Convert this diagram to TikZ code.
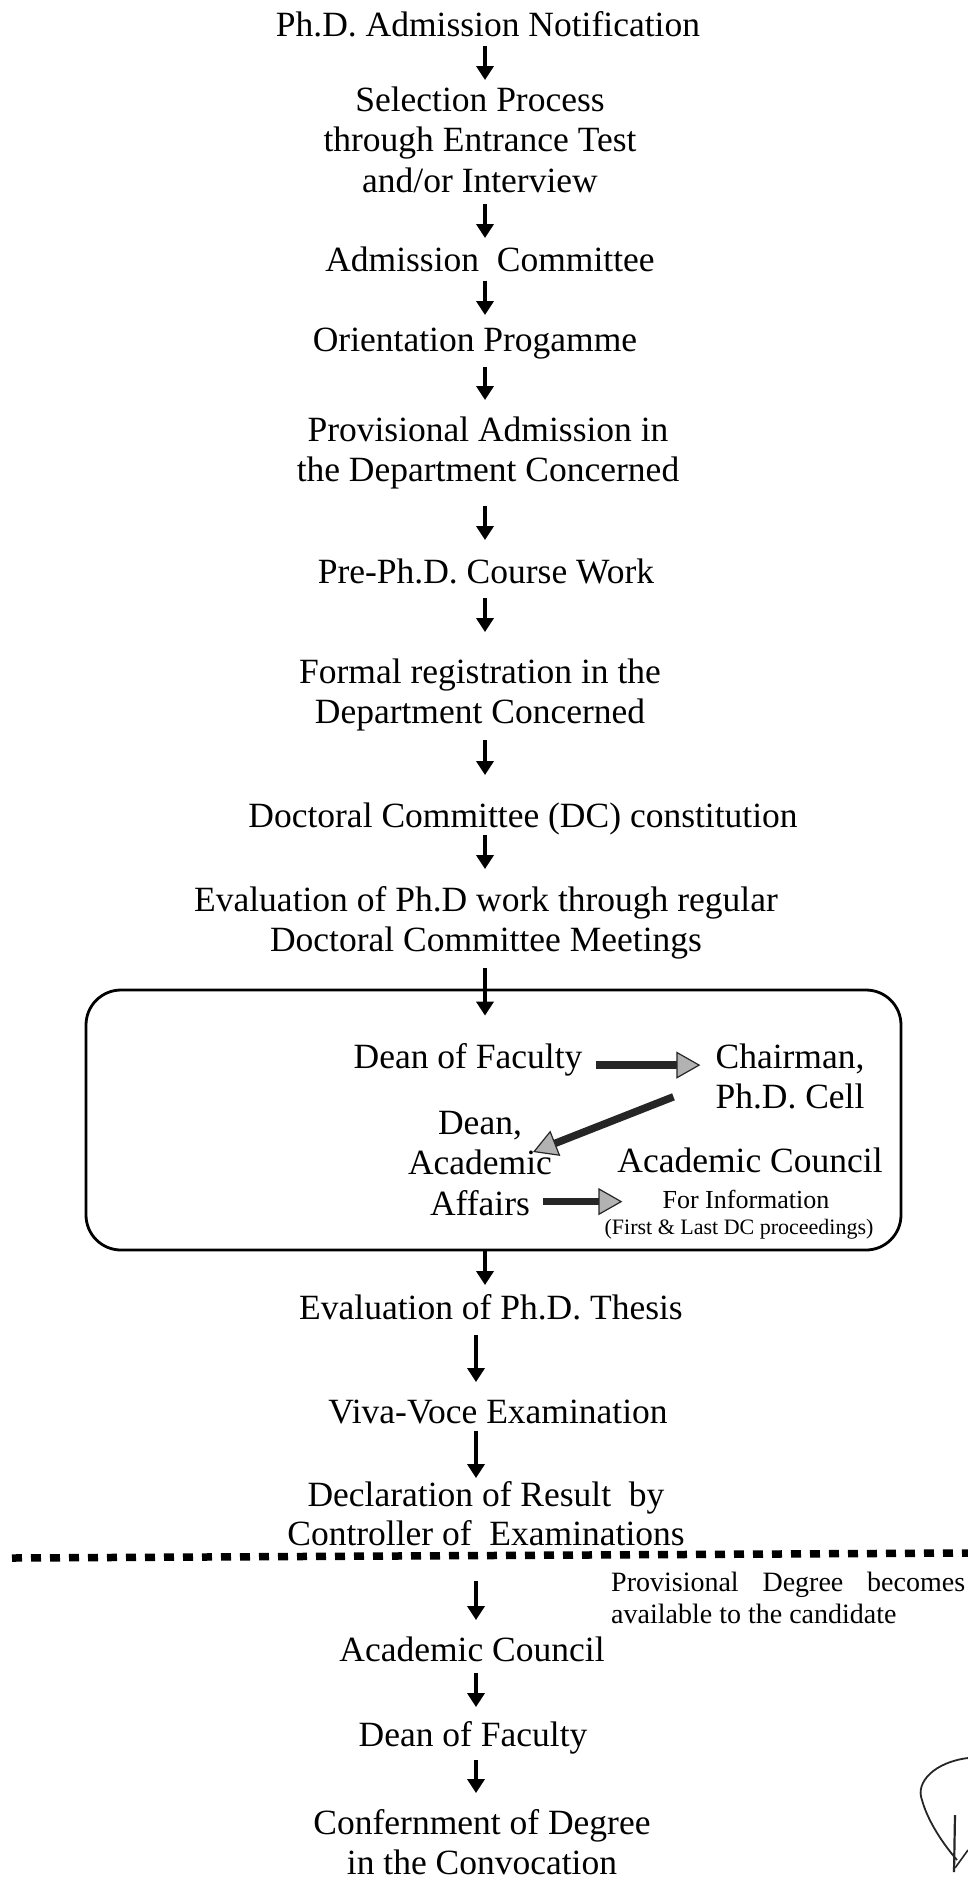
\documentclass[tikz,border=0pt]{standalone}
\usepackage{fontspec}
\setmainfont{Liberation Serif}
\usetikzlibrary{arrows.meta}
\begin{document}
\begin{tikzpicture}[x=1pt,y=-1pt,
  txt/.style={font=\fontsize{35.5}{40.5}\selectfont, align=center, inner sep=0pt, anchor=north},
  arr/.style={line width=4pt, black, -{Triangle[length=14pt,width=17pt]}},
  blk/.style={line width=7.5pt, draw=black!85, -{Triangle[length=24pt,width=27pt,line width=1.2pt,fill=gray!60]}},
  boxstyle/.style={draw, line width=2.8pt, rounded corners=35pt, minimum width=815pt, minimum height=260pt, inner sep=0pt}
]
\fill[white] (0,0) rectangle (968,1883);
\useasboundingbox (0,0) rectangle (968,1883);

\coordinate (colA) at (485,0);
\coordinate (colB) at (476,0);

% main column
\node[txt] (title)  at (488,7.65)    {\strut Ph.D. Admission Notification\strut};
\node[txt] (sel)    at (480,82.65)   {\strut Selection Process\\through Entrance Test\\and/or Interview\strut};
\node[txt] (adm)    at (490,242.65)  {\strut Admission\ \ Committee\strut};
\node[txt] (ori)    at (475,322.65)  {\strut Orientation Progamme\strut};
\node[txt] (prov)   at (488,412.65)  {\strut Provisional Admission in\\the Department Concerned\strut};
\node[txt] (pre)    at (486,554.65)  {\strut Pre-Ph.D. Course Work\strut};
\node[txt] (formal) at (480,654.65)  {\strut Formal registration in the\\Department Concerned\strut};
\node[txt] (dc)     at (523,798.65)  {\strut Doctoral Committee (DC) constitution\strut};
\node[txt] (eval)   at (486,882.65)  {\strut Evaluation of Ph.D work through regular\\Doctoral Committee Meetings\strut};

% box
\node[boxstyle] (box) at (493.5,1120) {};
\node[txt] (deanF) at (468,1039.65) {\strut Dean of Faculty\strut};
\node[txt] (chair) at (790,1039.65) {\strut Chairman,\\Ph.D. Cell\strut};
\node[txt] (deanA) at (480,1105.65) {\strut Dean,\\Academic\\Affairs\strut};
\node[txt, anchor=base] (council) at (750,1172) {Academic Council};
\node[txt, anchor=base, font=\fontsize{26}{30}\selectfont] (info) at (746,1208) {For Information};
\node[txt, anchor=base, font=\fontsize{22}{26}\selectfont] (first) at (739,1234) {(First \& Last DC proceedings)};

\node[txt] (thesis) at (491,1290.65) {\strut Evaluation of Ph.D. Thesis\strut};
\node[txt] (viva)   at (498,1394.65) {\strut Viva-Voce Examination\strut};
\node[txt, font=\fontsize{35.5}{38.5}\selectfont] (decl) at (486,1479.65) {\strut Declaration of Result\ \ by\\Controller of\ \ Examinations\strut};
\node[txt] (acad)   at (472,1632.65) {\strut Academic Council\strut};
\node[txt] (dean2)  at (473,1717.65) {\strut Dean of Faculty\strut};
\node[txt] (conf)   at (482,1805.65) {\strut Confernment of Degree\\in the Convocation\strut};

\node[anchor=north west, inner sep=0pt, align=left, font=\fontsize{28}{32}\selectfont] (provdeg) at (611,1568.6)
  {\strut\makebox[354pt][s]{Provisional Degree becomes}\\available to the candidate};

% dotted separator
\draw[line width=7.5pt, dash pattern=on 10pt off 9pt] (12,1558) -- (968,1553);

% main arrows
\draw[arr, shorten <=-3pt, shorten >=2.6pt]  (title.south -| colA)  -- (sel.north -| colA);
\draw[arr, shorten <=-1pt, shorten >=4.6pt]  (sel.south -| colA)    -- (adm.north -| colA);
\draw[arr, shorten <=-3pt, shorten >=7.6pt]  (adm.south -| colA)    -- (ori.north -| colA);
\draw[arr, shorten <=3.8pt, shorten >=12.6pt] (ori.south -| colA)   -- (prov.north -| colA);
\draw[arr, shorten <=12.3pt, shorten >=14.6pt] (prov.south -| colA) -- (pre.north -| colA);
\draw[arr, shorten <=2.8pt, shorten >=22.6pt] (pre.south -| colA)   -- (formal.north -| colA);
\draw[arr, shorten <=4.3pt, shorten >=23.6pt] (formal.south -| colA) -- (dc.north -| colA);
\draw[arr, shorten <=-5pt, shorten >=13.6pt]  (dc.south -| colA)    -- (eval.north -| colA);
\draw[arr, shorten <=4.3pt, shorten >=-27pt]  (eval.south -| colA)  -- (box.north -| colA);
\draw[arr, shorten <=0pt, shorten >=5.6pt]    (box.south -| colA)   -- (thesis.north -| colA);
\draw[arr, shorten <=3.8pt, shorten >=12.6pt] (thesis.south -| colB) -- (viva.north -| colB);
\draw[arr, shorten <=-5pt, shorten >=1.6pt]   (viva.south -| colB)  -- (decl.north -| colB);
\draw[arr, shorten <=24pt, shorten >=12.6pt]  (decl.south -| colB)  -- (acad.north -| colB);
\draw[arr, shorten <=-1pt, shorten >=10.6pt]  (acad.south -| colB)  -- (dean2.north -| colB);
\draw[arr, shorten <=1.8pt, shorten >=12.6pt] (dean2.south -| colB) -- (conf.north -| colB);

% block arrows inside box
\coordinate (dgtip) at (533,1152);
\draw[blk, shorten <=13pt, shorten >=15pt] ([yshift=-5pt]deanF.east) -- ([yshift=-5pt]deanF.east -| chair.west);
\draw[blk, shorten <=45pt] (chair.west) -- (dgtip);
\draw[blk, shorten <=-9pt, shorten >=40pt] ([yshift=-35pt]deanA.east) -- ([yshift=-35pt]deanA.east -| info.west);

% signature mark
\draw[line width=1.8pt, black!85] (968,1758) .. controls (935,1762) and (915,1782) .. (922,1800) .. controls (928,1822) and (944,1845) .. (957,1860);
\draw[line width=2.2pt, black!85] (955,1815) -- (954,1872);
\draw[line width=1.6pt, black!85] (955,1868) -- (968,1850);
\end{tikzpicture}
\end{document}
